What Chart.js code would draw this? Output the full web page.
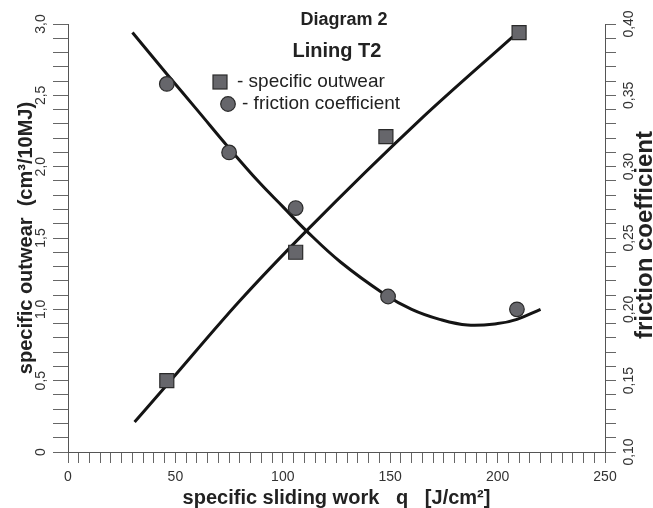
<!DOCTYPE html>
<html>
<head>
<meta charset="utf-8">
<script src="https://cdn.jsdelivr.net/npm/chart.js"></script>
<style>
  html,body{margin:0;padding:0;background:#fff;}
  #wrap{width:653px;height:508px;}
</style>
</head>
<body>
<div id="wrap"><canvas id="chart" width="653" height="508"></canvas></div>
<script>
  // measured points
  const outwearWork = [46, 106, 148, 210];
  const outwearValues = [0.50, 1.40, 2.21, 2.94];
  const frictionWork = [46, 75, 106, 149, 209];
  const frictionValues = [0.358, 0.310, 0.271, 0.209, 0.200];

  // trend curves
  const outwearFitWork = [31, 46, 80, 111, 164, 207];
  const outwearFitValues = [0.21, 0.47, 1.06, 1.55, 2.33, 2.91];
  const frictionFitWork = [30, 46, 60, 75, 89, 100, 111, 127, 147, 160, 173, 186, 200, 209, 220];
  const frictionFitValues = [0.394, 0.365, 0.340, 0.313, 0.289, 0.272, 0.255, 0.233, 0.211, 0.200, 0.193, 0.189, 0.190, 0.193, 0.200];

  const xLabelEvery = 50;
  const leftLabelEvery = 0.5;
  const rightLabelEvery = 0.05;

  const FONT = "'Liberation Sans', Arial, sans-serif";
  const toXY = (xs, ys) => xs.map((x, i) => ({x: x, y: ys[i]}));
  const isMultiple = (v, step) => Math.abs(v / step - Math.round(v / step)) < 1e-6;
  const comma = (v, d) => v.toFixed(d).replace('.', ',');

  const overlay = {
    id: 'overlay',
    afterDraw(chart){
      const ctx = chart.ctx;
      ctx.save();
      ctx.fillStyle = '#222';
      ctx.textAlign = 'center';
      ctx.textBaseline = 'middle';
      ctx.font = 'bold 18px ' + FONT;
      ctx.fillText('Diagram 2', 344, 20);
      ctx.font = 'bold 20px ' + FONT;
      ctx.fillText('Lining T2', 337, 51);

      // legend
      ctx.textAlign = 'left';
      ctx.font = '19px ' + FONT;
      ctx.fillText('- specific outwear', 237, 82);
      ctx.fillText('- friction coefficient', 242, 104);
      ctx.fillStyle = '#66666b';
      ctx.strokeStyle = '#2a2a2a';
      ctx.lineWidth = 1.2;
      ctx.fillRect(213, 75, 14, 14);
      ctx.strokeRect(213, 75, 14, 14);
      ctx.beginPath();
      ctx.arc(228, 104, 7.3, 0, Math.PI * 2);
      ctx.fill();
      ctx.stroke();

      // right axis title, reads bottom to top
      ctx.fillStyle = '#222';
      ctx.translate(645, 235);
      ctx.rotate(-Math.PI / 2);
      ctx.textAlign = 'center';
      ctx.font = 'bold 24px ' + FONT;
      ctx.fillText('friction coefficient', 0, 0);
      ctx.restore();
    }
  };

  const tickFont = {family: FONT, size: 14};

  new Chart(document.getElementById('chart').getContext('2d'), {
    type: 'scatter',
    data: {
      datasets: [
        {data: toXY(outwearWork, outwearValues), yAxisID: 'y', pointStyle: 'rect', pointRadius: 9.9,
         backgroundColor: '#66666b', borderColor: '#2a2a2a', borderWidth: 1.2},
        {data: toXY(frictionWork, frictionValues), yAxisID: 'y1', pointStyle: 'circle', pointRadius: 7.3,
         backgroundColor: '#66666b', borderColor: '#2a2a2a', borderWidth: 1.2},
        {data: toXY(outwearFitWork, outwearFitValues), yAxisID: 'y', showLine: true, pointRadius: 0,
         borderColor: '#141414', borderWidth: 3, cubicInterpolationMode: 'monotone'},
        {data: toXY(frictionFitWork, frictionFitValues), yAxisID: 'y1', showLine: true, pointRadius: 0,
         borderColor: '#141414', borderWidth: 3, tension: 0.4}
      ]
    },
    options: {
      responsive: false,
      animation: false,
      devicePixelRatio: 1,
      layout: {padding: {top: 24, left: 0, right: 0, bottom: 0}},
      plugins: {legend: {display: false}, tooltip: {enabled: false}},
      scales: {
        x: {
          type: 'linear', position: 'bottom', min: 0, max: 250,
          afterFit(s){ s.height = 56; },
          border: {display: true, color: '#555', width: 1},
          grid: {drawOnChartArea: false, drawTicks: true, tickLength: 11, color: '#666'},
          ticks: {stepSize: 5, autoSkip: false, maxRotation: 0, padding: 6, color: '#333', font: tickFont,
                  callback: v => isMultiple(v, xLabelEvery) ? String(Math.round(v)) : ''},
          title: {display: true, text: 'specific sliding work   q   [J/cm\u00b2]', color: '#222',
                  font: {family: FONT, size: 20, weight: 'bold', lineHeight: 1}, padding: {top: 0, bottom: 0}}
        },
        y: {
          type: 'linear', position: 'left', min: 0, max: 3,
          afterFit(s){ s.width = 68; },
          border: {display: true, color: '#555', width: 1},
          grid: {drawOnChartArea: false, drawTicks: true, tickLength: 15, color: '#666'},
          ticks: {stepSize: 0.1, autoSkip: false, minRotation: 90, maxRotation: 90, crossAlign: 'center',
                  padding: 2, color: '#333', font: tickFont,
                  callback: v => isMultiple(v, leftLabelEvery) ? (Math.abs(v) < 1e-9 ? '0' : comma(v, 1)) : ''},
          title: {display: true, text: 'specific outwear  (cm\u00b3/10MJ)', color: '#222',
                  font: {family: FONT, size: 20, weight: 'bold', lineHeight: 1}, padding: {top: 16, bottom: 0}}
        },
        y1: {
          type: 'linear', position: 'right', min: 0.10, max: 0.40,
          afterFit(s){ s.width = 48; },
          border: {display: true, color: '#555', width: 1},
          grid: {drawOnChartArea: false, drawTicks: true, tickLength: 11, color: '#666'},
          ticks: {stepSize: 0.01, autoSkip: false, minRotation: 90, maxRotation: 90, crossAlign: 'center',
                  padding: 0, color: '#333', font: tickFont,
                  callback: v => isMultiple(v, rightLabelEvery) ? comma(v, 2) : ''}
        }
      }
    },
    plugins: [overlay]
  });
</script>
</body>
</html>
